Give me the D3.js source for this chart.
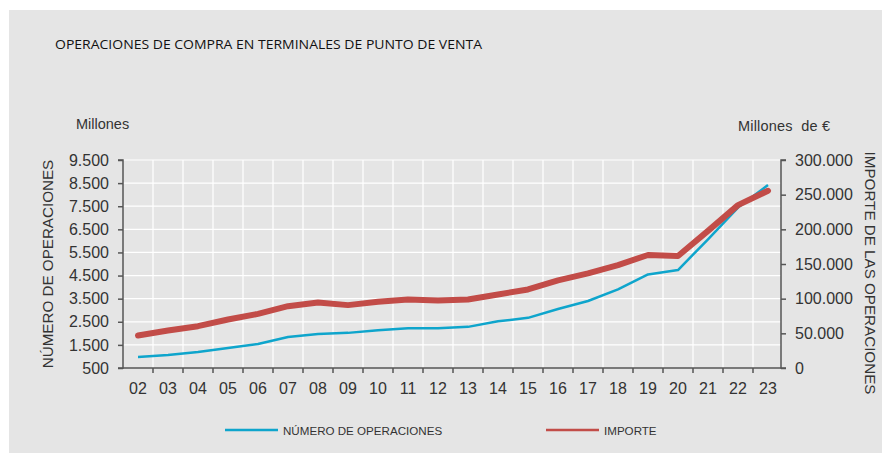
<!DOCTYPE html>
<html>
<head>
<meta charset="utf-8">
<script src="https://cdn.jsdelivr.net/npm/d3@7"></script>
<style>
  body { margin: 0; background: #fff; }
  svg text { font-family: "Liberation Sans", Arial, sans-serif; fill: #333; }
</style>
</head>
<body>
<svg width="882" height="453"></svg>
<script>
/* chart data */

const years = ["02","03","04","05","06","07","08","09","10","11","12",
               "13","14","15","16","17","18","19","20","21","22","23"];

// millions of operations (left axis)
const operaciones = [980, 1065, 1195, 1365, 1540, 1845, 1975, 2020, 2135, 2220, 2225,
                     2280, 2520, 2670, 3050, 3400, 3900, 4550, 4740, 6070, 7440, 8420];

// millions of euro (right axis)
const importe = [46800, 54000, 60300, 69900, 78100, 89200, 94500, 90700, 95500, 98900, 97400,
                 98900, 106100, 113300, 126400, 136500, 148500, 163000, 161600, 197700, 234900, 255600];

const leftTicks = [500, 1500, 2500, 3500, 4500, 5500, 6500, 7500, 8500, 9500];
const rightTicks = [0, 50000, 100000, 150000, 200000, 250000, 300000];

const blue = "#0ea5cc";
const red = "#c24c48";

/* layout */

let svg = d3.select("svg");

let mLeft = 123, mRight = 783, mTop = 160, mBottom = 368;

let fmt = d3.formatLocale({ decimal: ",", thousands: ".", grouping: [3], currency: ["", "€"] }).format(",");

svg.append("rect")
  .attr("x", 9).attr("y", 10)
  .attr("width", 873).attr("height", 443)
  .attr("fill", "#e5e5e5");

let x = d3.scaleBand().domain(years).range([mLeft, mRight]);
let yL = d3.scaleLinear().domain([500, 9500]).range([mBottom, mTop]);
let yR = d3.scaleLinear().domain([0, 300000]).range([mBottom, mTop]);

// grid
let grid = svg.append("g").attr("stroke", "#fff").attr("stroke-width", 1.2);
grid.selectAll("line.h")
  .data(leftTicks.slice(1))
  .enter().append("line")
  .attr("x1", mLeft).attr("x2", mRight - 2)
  .attr("y1", d => yL(d)).attr("y2", d => yL(d));
grid.selectAll("line.v")
  .data(years.slice(1))
  .enter().append("line")
  .attr("x1", d => x(d)).attr("x2", d => x(d))
  .attr("y1", mTop).attr("y2", mBottom);

// axes
let axisColor = "#555";

let gl = svg.append("g")
  .attr("transform", `translate(${mLeft},0)`)
  .call(d3.axisLeft(yL).tickValues(leftTicks).tickFormat(fmt).tickSize(5).tickPadding(9));

let gr = svg.append("g")
  .attr("transform", `translate(${mRight - 2},0)`)
  .call(d3.axisRight(yR).tickValues(rightTicks).tickFormat(fmt).tickSize(5).tickPadding(9));

let gb = svg.append("g")
  .attr("transform", `translate(0,${mBottom})`)
  .call(d3.axisBottom(x).tickSize(0).tickPadding(15));

// bottom tick marks on band boundaries
svg.append("g").selectAll("line")
  .data(years.slice(1))
  .enter().append("line")
  .attr("x1", d => x(d)).attr("x2", d => x(d))
  .attr("y1", mBottom).attr("y2", mBottom + 5)
  .attr("stroke", axisColor).attr("stroke-width", 1.5);

[gl, gr, gb].forEach(g => {
  g.select(".domain").attr("stroke", axisColor).attr("stroke-width", 1.5);
  g.selectAll(".tick line").attr("stroke", axisColor).attr("stroke-width", 1.5);
  g.selectAll("text")
    .attr("font-family", "Liberation Sans, Arial, sans-serif")
    .attr("font-size", 16).attr("fill", "#333");
});
gb.select(".domain").attr("d", `M${mLeft},0H${mRight - 2}`);
gr.select(".domain").attr("d", `M5,${mTop}H0V${mBottom}H5`);
gl.select(".domain").attr("d", `M-5,${mTop}H0V${mBottom}H-5`);

// lines
let cx = d => x(d) + x.bandwidth() / 2;

let lineOps = d3.line()
  .x((d, i) => cx(years[i]))
  .y(d => yL(d));

let lineImp = d3.line()
  .x((d, i) => cx(years[i]))
  .y(d => yR(d));

svg.append("path")
  .attr("d", lineOps(operaciones))
  .attr("fill", "none")
  .attr("stroke", blue)
  .attr("stroke-width", 2.5)
  .attr("stroke-linejoin", "round");

svg.append("path")
  .attr("d", lineImp(importe))
  .attr("fill", "none")
  .attr("stroke", red)
  .attr("stroke-width", 6)
  .attr("stroke-linecap", "round")
  .attr("stroke-linejoin", "round");

// texts
svg.append("text")
  .text("OPERACIONES DE COMPRA EN TERMINALES DE PUNTO DE VENTA")
  .attr("x", 55).attr("y", 49)
  .attr("textLength", 427)
  .attr("lengthAdjust", "spacingAndGlyphs")
  .style("font-family", "'Open Sans', sans-serif")
  .style("font-size", "13px")
  .style("fill", "#111");

svg.append("text")
  .text("Millones")
  .attr("x", 76).attr("y", 129)
  .attr("font-size", 14.5);

svg.append("text")
  .text("Millones  de €")
  .attr("x", 738).attr("y", 131)
  .attr("textLength", 92)
  .style("white-space", "pre")
  .attr("font-size", 14.5);

svg.append("text")
  .text("NÚMERO DE OPERACIONES")
  .attr("transform", "translate(53,264) rotate(-90)")
  .attr("text-anchor", "middle")
  .attr("font-size", 15.2);

svg.append("text")
  .text("IMPORTE DE LAS OPERACIONES")
  .attr("transform", "translate(865,273) rotate(90)")
  .attr("text-anchor", "middle")
  .attr("font-size", 15.2);

// legend
let legend = [
  { name: "NÚMERO DE OPERACIONES", color: blue, x: 225 },
  { name: "IMPORTE", color: red, x: 546 }
];

let lg = svg.append("g").selectAll("g")
  .data(legend)
  .enter().append("g")
  .attr("transform", d => `translate(${d.x},430)`);

lg.append("line")
  .attr("x1", 0).attr("x2", 53)
  .attr("stroke", d => d.color)
  .attr("stroke-width", 2.5);

lg.append("text")
  .text(d => d.name)
  .attr("x", 58).attr("y", 4.5)
  .attr("font-size", 11.6);
</script>
</body>
</html>
